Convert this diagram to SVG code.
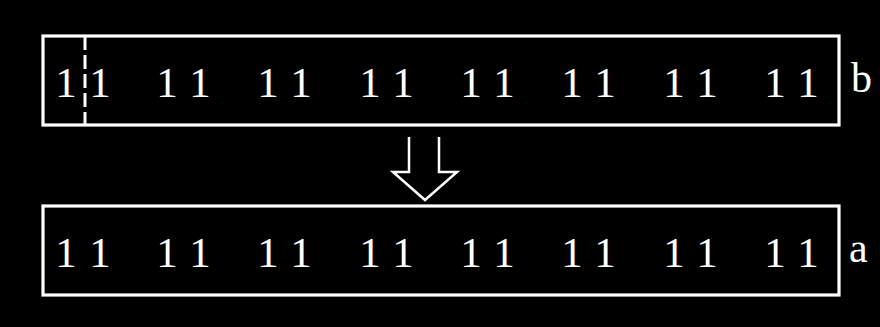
<svg xmlns="http://www.w3.org/2000/svg" width="880" height="327" viewBox="0 0 880 327">
<style>
.box{fill:none;stroke:#fff;stroke-width:3.2}
.t{fill:#fff;font-family:"Liberation Serif","Times New Roman",serif;font-size:43px;text-anchor:middle}
.lbl{fill:#fff;font-family:"Liberation Serif","Times New Roman",serif;font-size:42px}
</style>
<rect width="880" height="327" fill="#000"/>
<g id="row-b">
<rect class="box" x="43" y="36" width="796" height="89"/>
<line x1="85" y1="36" x2="85" y2="125" stroke="#fff" stroke-width="3" stroke-dasharray="14 5"/>
<text class="t" y="97"><tspan x="66">1</tspan><tspan x="100">1</tspan><tspan x="167">1</tspan><tspan x="200">1</tspan><tspan x="268">1</tspan><tspan x="301">1</tspan><tspan x="370">1</tspan><tspan x="403">1</tspan><tspan x="471">1</tspan><tspan x="504">1</tspan><tspan x="572">1</tspan><tspan x="605">1</tspan><tspan x="674">1</tspan><tspan x="707">1</tspan><tspan x="775">1</tspan><tspan x="808">1</tspan></text>
<text class="lbl" x="851" y="92">b</text>
</g>
<g id="row-a">
<rect class="box" x="43" y="206" width="796" height="89"/>
<text class="t" y="267"><tspan x="66">1</tspan><tspan x="100">1</tspan><tspan x="167">1</tspan><tspan x="200">1</tspan><tspan x="268">1</tspan><tspan x="301">1</tspan><tspan x="370">1</tspan><tspan x="403">1</tspan><tspan x="471">1</tspan><tspan x="504">1</tspan><tspan x="572">1</tspan><tspan x="605">1</tspan><tspan x="674">1</tspan><tspan x="707">1</tspan><tspan x="775">1</tspan><tspan x="808">1</tspan></text>
<text class="lbl" x="849" y="262">a</text>
</g>
<g id="connectors">
<polyline points="409,137 409,172 393,172 425,200 457,172 439,172 439,137" fill="none" stroke="#fff" stroke-width="2.5" stroke-linejoin="miter"/>
</g>
</svg>
